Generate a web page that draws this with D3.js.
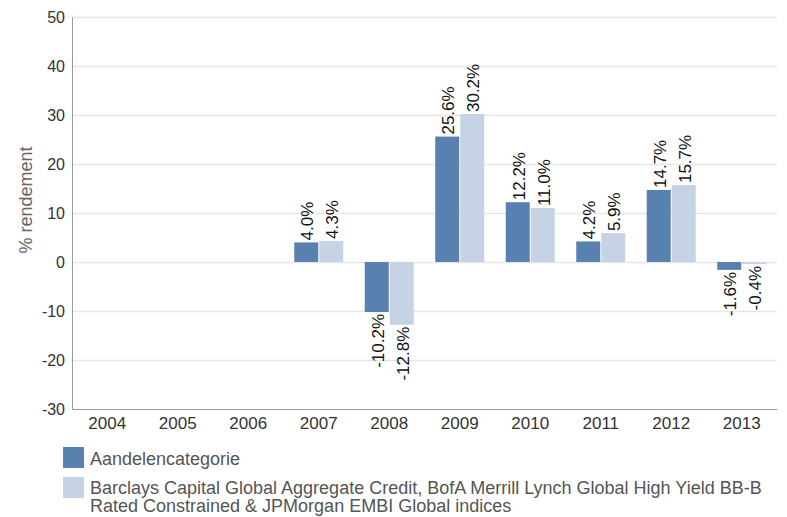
<!DOCTYPE html>
<html><head><meta charset="utf-8">
<script src="https://cdn.jsdelivr.net/npm/d3@7"></script>
<style>body{margin:0;background:#fff;font-family:Arial,"Liberation Sans",sans-serif;}</style>
</head><body><svg id="c" width="787" height="517"></svg>
<script>
const years = ["2004","2005","2006","2007","2008","2009","2010","2011","2012","2013"];
const seriesNames = ["Aandelencategorie","Barclays Capital Global Aggregate Credit, BofA Merrill Lynch Global High Yield BB-B|Rated Constrained & JPMorgan EMBI Global indices"];
const fundValues = [null,null,null,4.0,-10.2,25.6,12.2,4.2,14.7,-1.6];
const indexValues = [null,null,null,4.3,-12.8,30.2,11.0,5.9,15.7,-0.4];
const yTicks = [-30,-20,-10,0,10,20,30,40,50];
const colors = ["#5981b0","#c5d3e5"];
const FF = "Arial, Liberation Sans, sans-serif";

const svg = d3.select("#c").attr("font-family",FF);
const L=72,R=777,T=17,B=409;
const x = d3.scaleBand().domain(years).range([L,R]);
const y = d3.scaleLinear().domain([-30,50]).range([B,T]);

// gridlines
svg.append("g").selectAll("line").data(yTicks.filter(d=>d!==-30)).join("line")
 .attr("x1",L).attr("x2",R).attr("y1",d=>y(d)+0.5).attr("y2",d=>y(d)+0.5)
 .attr("stroke","#e6e6e6").attr("stroke-width",1.5);

// y axis
const ya = svg.append("g").attr("transform",`translate(${L},0)`)
 .call(d3.axisLeft(y).tickValues(yTicks).tickFormat(d=>String(d)).tickSize(0).tickPadding(7));
ya.select(".domain").attr("stroke","#999");
ya.selectAll("text").attr("font-size","16px").attr("fill","#333").attr("font-family",FF);

// x axis
const xa = svg.append("g").attr("transform",`translate(0,${B})`)
 .call(d3.axisBottom(x).tickSize(0).tickPadding(8));
xa.select(".domain").attr("stroke","#999");
xa.selectAll("text").attr("font-size","17px").attr("fill","#333").attr("font-family",FF);

// y title
svg.append("text").attr("transform","translate(32,200) rotate(-90)")
 .attr("text-anchor","middle").attr("font-size","18px").attr("fill","#666").text("% rendement");

const data = [fundValues,indexValues];
data.forEach((vals,si)=>{
  const bw = 24;
  const off = si===0 ? -bw-0.5 : 0.5;
  const g = svg.append("g");
  const pts = years.map((yr,i)=>({yr,v:vals[i]})).filter(d=>d.v!==null);
  g.selectAll("rect").data(pts).join("rect")
   .attr("x",d=>x(d.yr)+x.bandwidth()/2+off)
   .attr("width",bw)
   .attr("y",d=>y(Math.max(0,d.v)))
   .attr("height",d=>Math.abs(y(d.v)-y(0)))
   .attr("fill",colors[si]);
  g.selectAll("text").data(pts).join("text")
   .attr("transform",d=>{
     const cx = x(d.yr)+x.bandwidth()/2+off+bw/2+7;
     const cy = d.v>=0 ? y(d.v)-2 : y(d.v)+2;
     return `translate(${cx},${cy}) rotate(-90)`;
   })
   .attr("text-anchor",d=>d.v>=0?"start":"end")
   .attr("font-size","17px").attr("fill","#111")
   .text(d=>d.v.toFixed(1)+"%");
});

// legend
const lg = svg.append("g");
seriesNames.forEach((n,i)=>{
  const yy = i===0 ? 447 : 477;
  lg.append("rect").attr("x",63).attr("y",yy).attr("width",21).attr("height",21).attr("fill",colors[i]);
  const t = lg.append("text").attr("x",90).attr("y",i===0?465:494).attr("font-size","18px").attr("fill","#555");
  n.split("|").forEach((line,j)=>{
    t.append("tspan").attr("x",90).attr("dy",j===0?0:18).text(line);
  });
});
</script></body></html>
